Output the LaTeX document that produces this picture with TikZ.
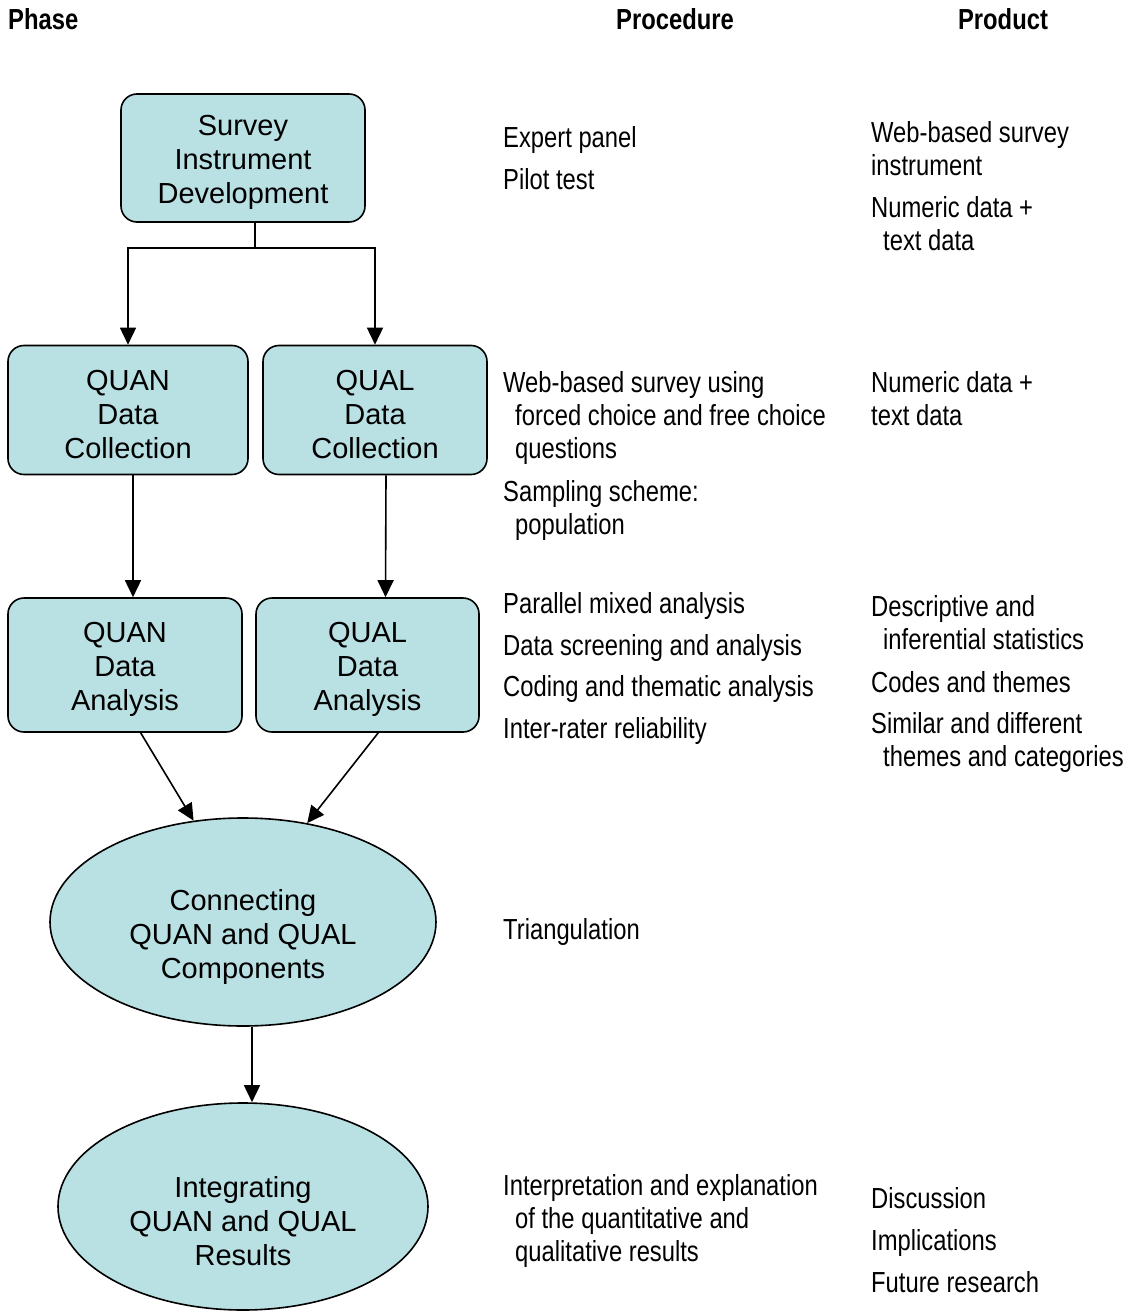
\documentclass[tikz,border=0pt]{standalone}
\usepackage{fontspec}
\setmainfont{Liberation Sans}
\newfontfamily\narrowfont[FakeStretch=0.82]{Liberation Sans}
\usetikzlibrary{shapes.geometric,arrows.meta}
\definecolor{boxfill}{RGB}{185,224,227}
\newcommand{\boxstrut}{\rule{0pt}{29pt}}
\newcommand{\ovalstrut}{\rule{0pt}{50pt}}
\begin{document}
\begin{tikzpicture}[x=1pt,y=-1pt,
  phasebox/.style={draw=black,line width=1.6pt,fill=boxfill,rounded corners=16pt,align=center,
    font=\fontsize{29}{34}\selectfont,inner sep=0pt},
  phaseoval/.style={draw=black,line width=1.6pt,fill=boxfill,ellipse,align=center,
    font=\fontsize{29}{34}\selectfont,inner sep=0pt},
  sidetext/.style={anchor=base west,align=left,inner sep=0pt,font=\narrowfont\fontsize{29}{33}\selectfont},
  headtext/.style={anchor=base,inner sep=0pt,font=\narrowfont\bfseries\fontsize{29}{33}\selectfont},
  arr/.style={line width=1.6pt,-{Triangle[width=16pt,length=17pt]}},
  conn/.style={line width=1.6pt}]
\useasboundingbox (0,0) rectangle (1133,1313);

% headers
\node[headtext,anchor=base west] (hphase) at (8,30) {Phase};
\node[headtext] (hproc) at (675,30) {Procedure};
\node[headtext] (hprod) at (1003,30) {Product};

% phase nodes
\node[phasebox,minimum width=244pt,minimum height=128pt] (sid) at (243,158) {\boxstrut Survey\\Instrument\\Development};
\node[phasebox,minimum width=240pt,minimum height=129pt] (qndc) at (128,410) {\boxstrut QUAN\\Data\\Collection};
\node[phasebox,minimum width=224pt,minimum height=129pt] (qldc) at (375,410) {\boxstrut QUAL\\Data\\Collection};
\node[phasebox,minimum width=234pt,minimum height=134pt] (qnda) at (125,665) {\boxstrut QUAN\\Data\\Analysis};
\node[phasebox,minimum width=223pt,minimum height=134pt] (qlda) at (367.5,665) {\boxstrut QUAL\\Data\\Analysis};
\node[phaseoval,minimum width=386pt,minimum height=208pt] (cnct) at (243,922) {\ovalstrut Connecting\\QUAN and QUAL\\Components};
\node[phaseoval,minimum width=370pt,minimum height=207pt] (intg) at (243,1206.5) {\ovalstrut Integrating\\QUAN and QUAL\\Results};

% connectors
\coordinate (split) at (255,248);
\draw[conn] ([xshift=12pt]sid.south) -- (split);
\draw[arr] (split) -| (qndc.north);
\draw[arr] (split) -| (qldc.north);
\draw[arr] ([xshift=5pt]qndc.south) -- ([xshift=8pt]qnda.north);
\draw[arr] ([xshift=11pt]qldc.south) -- ([xshift=18pt]qlda.north);
\draw[arr] (qnda.-77) -- (cnct.116);
\draw[arr] (qlda.-81) -- (cnct.57);
\draw[arr] ([xshift=9pt]cnct.south) -- ([xshift=9pt]intg.north);

% procedure column
\node[sidetext] (p1) at (503,148) {Expert panel};
\node[sidetext] (p2) at (503,190) {Pilot test};
\node[sidetext] (p3) at (503,458) {Web-based survey using\\\hspace*{12pt}forced choice and free choice\\\hspace*{12pt}questions};
\node[sidetext] (p4) at (503,534) {Sampling scheme:\\\hspace*{12pt}population};
\node[sidetext] (p5) at (503,613) {Parallel mixed analysis};
\node[sidetext] (p6) at (503,655) {Data screening and analysis};
\node[sidetext] (p7) at (503,696) {Coding and thematic analysis};
\node[sidetext] (p8) at (503,738) {Inter-rater reliability};
\node[sidetext] (p9) at (503,939) {Triangulation};
\node[sidetext] (p10) at (503,1261) {Interpretation and explanation\\\hspace*{12pt}of the quantitative and\\\hspace*{12pt}qualitative results};

% product column
\node[sidetext] (r1) at (871,176) {Web-based survey\\instrument};
\node[sidetext] (r2) at (871,251) {Numeric data +\\\hspace*{12pt}text data};
\node[sidetext] (r3) at (871,425) {Numeric data +\\text data};
\node[sidetext] (r4) at (871,649) {Descriptive and\\\hspace*{12pt}inferential statistics};
\node[sidetext] (r5) at (871,692) {Codes and themes};
\node[sidetext] (r6) at (871,766) {Similar and different\\\hspace*{12pt}themes and categories};
\node[sidetext] (r7) at (871,1208) {Discussion};
\node[sidetext] (r8) at (871,1250) {Implications};
\node[sidetext] (r9) at (871,1292) {Future research};
\end{tikzpicture}
\end{document}
